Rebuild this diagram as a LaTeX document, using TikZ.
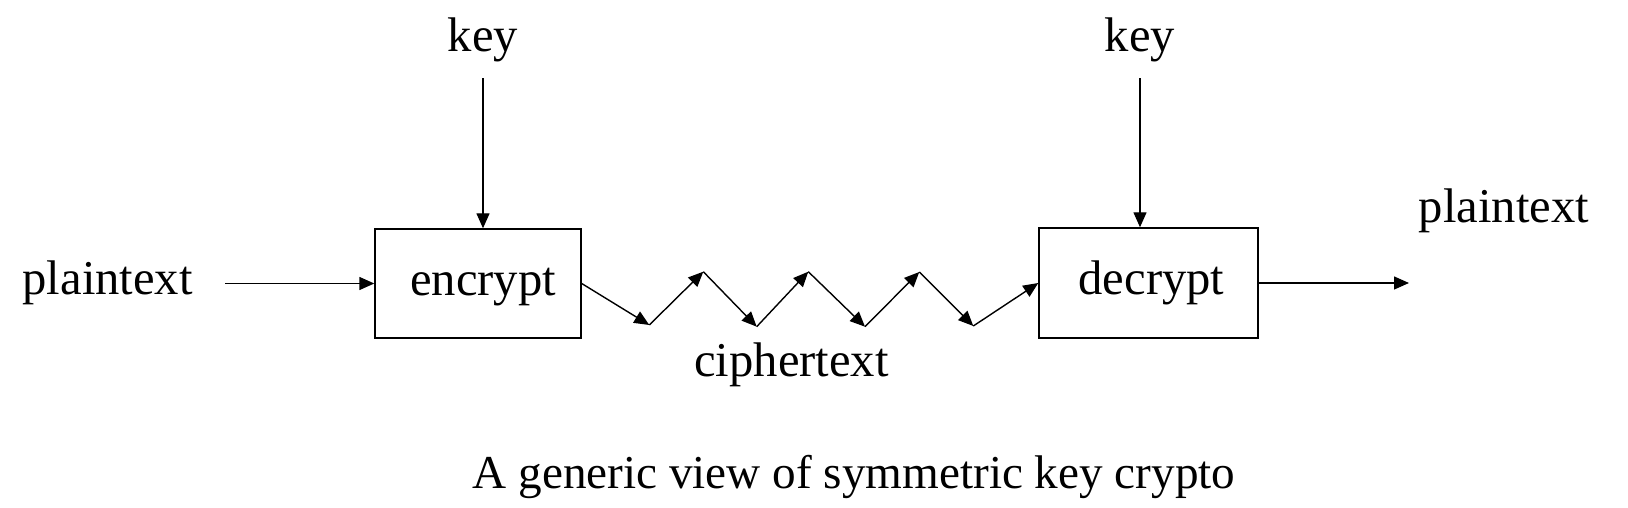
\documentclass[tikz,border=0pt]{standalone}
\usepackage{fontspec}
\setmainfont{Liberation Serif}
\usetikzlibrary{arrows.meta}
\begin{document}
\begin{tikzpicture}[x=0.5pt,y=0.5pt,line width=0.7pt,>={Triangle[length=7.5pt,width=6.5pt]},
	txt/.style={font=\fontsize{24.3}{29}\selectfont,inner sep=7.5pt,anchor=base},
	box/.style={draw,font=\fontsize{24.3}{29}\selectfont,inner sep=0pt,text height=17pt,text depth=5.3pt}]
	\useasboundingbox (0,0) rectangle (1628,508);
	\node[box,minimum width=103pt,minimum height=54.5pt] (enc) at (478,224.5) {\hspace{5pt}encrypt};
	\node[box,minimum width=109.5pt,minimum height=55pt] (dec) at (1148.5,225) {\hspace{3pt}decrypt};
	\node[txt] (key1) at (483,456) {key};
	\node[txt] (key2) at (1140,456) {key};
	\node[txt] (pt1) at (107.7,213) {plaintext};
	\node[txt] (pt2) at (1504,285) {plaintext};
	\node[txt] (ct) at (791.5,131.3) {ciphertext};
	\node[txt,font=\fontsize{23.6}{28}\selectfont] (cap) at (854,19.5) {A generic view of symmetric key crypto};
	\coordinate (z1) at (649.3,183);
	\coordinate (z2) at (703.3,236.3);
	\coordinate (z3) at (756.7,181.3);
	\coordinate (z4) at (808.3,236.3);
	\coordinate (z5) at (865,181.3);
	\coordinate (z6) at (919.3,236);
	\coordinate (z7) at (973.3,182);
	\coordinate (out) at (1409,225);
	\draw[->] (key1.south) -- (key1.south |- enc.north);
	\draw[->] (key2.south) -- (key2.south |- dec.north);
	\draw[->,shorten <=8.5pt] (pt1.east |- enc.west) -- (enc.west);
	\draw[->] (dec.east) -- (out);
	\foreach \a/\b in {enc.east/z1,z1/z2,z2/z3,z3/z4,z4/z5,z5/z6,z6/z7,z7/dec.west}
		\draw[->] (\a) -- (\b);
\end{tikzpicture}
\end{document}
